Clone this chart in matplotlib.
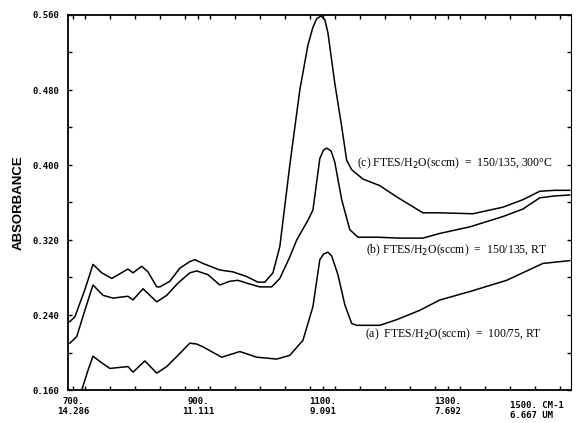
import numpy as np
import matplotlib
matplotlib.use("Agg")
from matplotlib import pyplot as plt
from matplotlib.ticker import MultipleLocator

# wavenumber (cm-1) / absorbance
c_x = [695, 703, 719, 732, 746, 762, 775, 788, 796, 810, 820, 834, 839, 855, 871, 887, 895, 908,
       935, 956, 978, 996, 1007, 1020, 1031, 1047, 1063, 1076, 1084, 1090, 1097, 1103, 1108, 1119,
       1130, 1138, 1146, 1164, 1191, 1218, 1260, 1287, 1340, 1388, 1420, 1447, 1471, 1495]
c_y = [0.233, 0.238, 0.267, 0.294, 0.285, 0.279, 0.284, 0.289, 0.285, 0.292, 0.286, 0.270, 0.270,
       0.276, 0.290, 0.297, 0.299, 0.295, 0.288, 0.286, 0.281, 0.275, 0.275, 0.285, 0.313, 0.400,
       0.480, 0.528, 0.547, 0.556, 0.559, 0.555, 0.541, 0.487, 0.441, 0.405, 0.395, 0.385, 0.378,
       0.366, 0.349, 0.349, 0.348, 0.355, 0.363, 0.372, 0.373, 0.373]

b_x = [695, 706, 719, 732, 748, 764, 788, 796, 812, 834, 850, 868, 887, 898, 916, 935, 951, 964,
       983, 999, 1018, 1031, 1047, 1058, 1076, 1084, 1095, 1101, 1106, 1113, 1119, 1130, 1143,
       1156, 1186, 1223, 1260, 1287, 1335, 1388, 1420, 1447, 1471, 1495]
b_y = [0.210, 0.217, 0.245, 0.272, 0.261, 0.258, 0.260, 0.256, 0.268, 0.254, 0.261, 0.274, 0.285,
       0.287, 0.283, 0.272, 0.276, 0.277, 0.273, 0.270, 0.270, 0.279, 0.302, 0.320, 0.341, 0.352,
       0.407, 0.416, 0.418, 0.415, 0.403, 0.363, 0.331, 0.323, 0.323, 0.322, 0.322, 0.327, 0.334,
       0.345, 0.353, 0.365, 0.367, 0.368]

a_x = [695, 701, 714, 724, 732, 746, 759, 788, 796, 815, 834, 850, 871, 887, 898, 908, 938, 967,
       994, 1026, 1047, 1068, 1084, 1095, 1101, 1108, 1114, 1124, 1135, 1146, 1154, 1191, 1218,
       1255, 1287, 1335, 1394, 1452, 1495]
a_y = [0.125, 0.139, 0.160, 0.181, 0.196, 0.189, 0.183, 0.185, 0.179, 0.191, 0.178, 0.185, 0.199,
       0.210, 0.209, 0.206, 0.195, 0.201, 0.195, 0.193, 0.197, 0.213, 0.249, 0.299, 0.305, 0.307,
       0.303, 0.283, 0.251, 0.231, 0.229, 0.229, 0.235, 0.245, 0.256, 0.265, 0.277, 0.295, 0.298]

x_ticks = [700, 900, 1100, 1300]
x_ticklabels = ["700.\n14.286", "900.\n11.111", "1100.\n9.091", "1300.\n7.692"]
y_ticks = [0.160, 0.240, 0.320, 0.400, 0.480, 0.560]

fig = plt.figure(figsize=(5.87, 4.23), dpi=100)
ax = fig.add_axes([68/587, 1-390/423, (571-68)/587, (390-15)/423])

for xs, ys in [(c_x, c_y), (b_x, b_y), (a_x, a_y)]:
    ax.plot(xs, ys, color="black", lw=1.1, solid_joinstyle="round")

ax.set_xlim(692, 1497)
ax.set_ylim(0.160, 0.560)

mono = dict(family="DejaVu Sans Mono", weight="bold", size=6.5)
ax.set_xticks(x_ticks)
ax.set_xticklabels(x_ticklabels, **mono)
ax.set_yticks(y_ticks)
ax.set_yticklabels(["%.3f" % v for v in y_ticks], **mono)
ax.xaxis.set_minor_locator(MultipleLocator(40))
ax.yaxis.set_minor_locator(MultipleLocator(0.04))
ax.tick_params(which="both", direction="in", top=True, right=True, length=3, width=1)
ax.tick_params(axis="x", pad=5)
ax.tick_params(axis="y", pad=6)

# last x label sits apart, bottom right corner
fig.text(510/587, 1-401/423, "1500. CM-1\n6.667 UM", ha="left", va="top",
         linespacing=1.1, **mono)

for s in ax.spines.values():
    s.set_linewidth(1.3)
ax.spines["right"].set_linewidth(0.8)

ax.set_ylabel("ABSORBANCE", family=["Liberation Sans Narrow", "Liberation Sans"],
              weight="bold", size=9.5, labelpad=6)

serif = dict(family="Liberation Serif", size=8.5)
ax.text(1154, 0.402, "(c) FTES/H$_2$O(sccm)  =  150/135, 300°C", va="center", **serif)
ax.text(1169, 0.309, "(b) FTES/H$_2$O(sccm)  =  150/135, RT", va="center", **serif)
ax.text(1168, 0.219, "(a)  FTES/H$_2$O(sccm)  =  100/75, RT", va="center", **serif)

fig.savefig("out.png", dpi=100)
